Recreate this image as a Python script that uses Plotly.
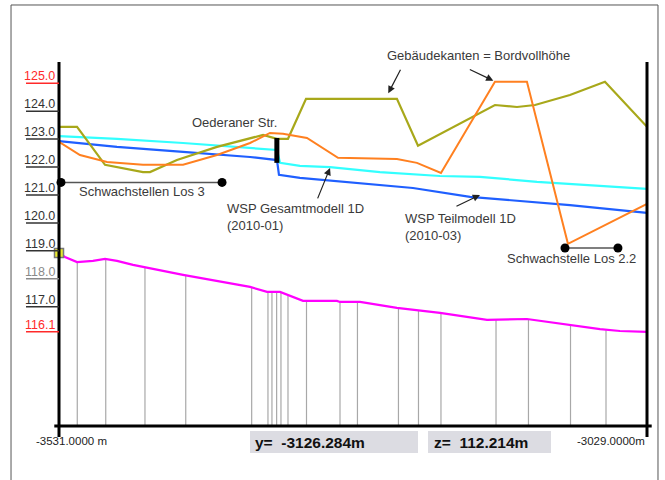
import numpy as np
import plotly.graph_objects as go

# ---------------- data (station in m, elevation in m) ----------------
ground_x = [-3531.0, -3525.9, -3515.6, -3502.0, -3491.7, -3481.5, -3467.8, -3425.1, -3367.9, -3353.4,
            -3342.3, -3322.7, -3293.7, -3291.1, -3274.0, -3242.5, -3205.7, -3165.6, -3131.5, -3097.3,
            -3069.1, -3052.1, -3029.0]
ground_z = [118.92, 118.78, 118.60, 118.64, 118.71, 118.64, 118.50, 118.14, 117.71, 117.53,
            117.53, 117.21, 117.21, 117.17, 117.17, 116.96, 116.78, 116.53, 116.56, 116.35,
            116.20, 116.13, 116.10]

station_x = [-3515.4, -3491.1, -3457.6, -3422.8, -3366.5, -3352.6, -3349.2, -3345.2, -3341.5, -3335.5,
             -3319.7, -3291.1, -3276.2, -3241.2, -3224.1, -3204.9, -3157.9, -3130.2, -3094.3, -3064.0]

bord_x = [-3531.0, -3515.6, -3491.7, -3459.3, -3453.3, -3430.3, -3396.1, -3356.8, -3344.9, -3335.5,
          -3320.1, -3242.5, -3224.5, -3158.8, -3140.0, -3124.6, -3094.8, -3064.9, -3029.0]
bord_z = [123.44, 123.44, 122.08, 121.82, 121.82, 122.25, 122.72, 123.15, 123.01, 123.01,
          124.44, 124.44, 122.76, 124.22, 124.15, 124.22, 124.58, 125.05, 123.44]

ufer_x = [-3531.0, -3513.1, -3490.0, -3459.3, -3425.1, -3396.1, -3367.9, -3350.9, -3339.8, -3319.3,
          -3292.8, -3242.5, -3225.4, -3204.9, -3158.8, -3131.5, -3096.5, -3029.0]
ufer_z = [122.90, 122.43, 122.18, 122.08, 122.08, 122.43, 122.86, 123.22, 123.19, 123.04,
          122.33, 122.29, 122.15, 121.79, 125.05, 125.05, 119.25, 120.68]

wsp_gesamt_x = [-3531.0, -3481.5, -3425.1, -3379.0, -3344.9, -3342.3, -3325.3, -3299.6, -3257.0,
                -3205.7, -3171.6, -3122.9, -3029.0]
wsp_gesamt_z = [123.11, 123.01, 122.86, 122.72, 122.61, 122.15, 122.04, 122.00, 121.82,
                121.68, 121.65, 121.47, 121.22]

wsp_teil_x = [-3531.0, -3481.5, -3425.1, -3367.9, -3344.9, -3343.2, -3325.3, -3285.1, -3228.8,
              -3180.1, -3094.8, -3029.0]
wsp_teil_z = [122.93, 122.72, 122.54, 122.36, 122.25, 121.72, 121.61, 121.47, 121.25,
              120.93, 120.64, 120.36]

bruecke_x = [-3345.0, -3345.0]
bruecke_z = [123.04, 122.15]

los3_x = [-3529.3, -3391.8]
los3_z = [121.45, 121.45]
los22_x = [-3099.0, -3053.8]
los22_z = [119.10, 119.10]

tick_vals = [125.0, 124.0, 123.0, 122.0, 121.0, 120.0, 119.0, 118.0, 117.0, 116.1]
tick_text = ["125.0", "124.0", "123.0", "122.0", "121.0", "120.0", "119.0", "118.0", "117.0", "116.1"]
tick_cols = ["#ff2a2a", "#333333", "#333333", "#333333", "#333333", "#333333", "#333333", "#8a8a8a",
             "#333333", "#ff2a2a"]

x_range = [-3531.0, -3029.0]
y_range = [112.73, 125.76]

FONT = "Liberation Sans, Arial, sans-serif"

fig = go.Figure()

# vertical station lines from ground to the bottom axis
gz = np.interp(station_x, ground_x, ground_z)
vx, vy = [], []
for sx, z in zip(station_x, gz):
    vx += [sx, sx, None]
    vy += [z, y_range[0], None]
fig.add_trace(go.Scatter(x=vx, y=vy, mode="lines", line=dict(color="#a8a8a8", width=1.2),
                         hoverinfo="skip", showlegend=False))

fig.add_trace(go.Scatter(x=ground_x, y=ground_z, mode="lines",
                         line=dict(color="#ff00ff", width=2.2), showlegend=False))
fig.add_trace(go.Scatter(x=wsp_gesamt_x, y=wsp_gesamt_z, mode="lines",
                         line=dict(color="#33ffff", width=2.2), showlegend=False))
fig.add_trace(go.Scatter(x=wsp_teil_x, y=wsp_teil_z, mode="lines",
                         line=dict(color="#1f5fff", width=2.2), showlegend=False))
fig.add_trace(go.Scatter(x=bord_x, y=bord_z, mode="lines",
                         line=dict(color="#a8a81a", width=2.2), showlegend=False))
fig.add_trace(go.Scatter(x=ufer_x, y=ufer_z, mode="lines",
                         line=dict(color="#ff8020", width=2.0), showlegend=False))
fig.add_trace(go.Scatter(x=bruecke_x, y=bruecke_z, mode="lines",
                         line=dict(color="#000000", width=5), showlegend=False))
fig.add_trace(go.Scatter(x=los3_x, y=los3_z, mode="lines+markers",
                         line=dict(color="#555555", width=1.5),
                         marker=dict(color="#000000", size=9), showlegend=False, cliponaxis=False))
fig.add_trace(go.Scatter(x=los22_x, y=los22_z, mode="lines+markers",
                         line=dict(color="#555555", width=1.5),
                         marker=dict(color="#000000", size=9), showlegend=False, cliponaxis=False))
fig.add_trace(go.Scatter(x=[ground_x[0]], y=[ground_z[0]], mode="markers",
                         marker=dict(symbol="square", color="#e8e830", size=9,
                                     line=dict(color="#777777", width=1.5)),
                         showlegend=False, cliponaxis=False))

shapes = []
# outer frame
for (x0, y0, x1, y1) in [(-0.0816, 1.1566, 1.0187, 1.1566), (-0.0816, 1.1566, -0.0816, -0.16),
                         (1.0187, 1.1566, 1.0187, -0.16)]:
    shapes.append(dict(type="line", xref="paper", yref="paper", x0=x0, y0=y0, x1=x1, y1=y1,
                       line=dict(color="#555555", width=1)))
# axes
shapes.append(dict(type="line", xref="paper", yref="paper", x0=0, y0=-0.03, x1=0, y1=1.0,
                   line=dict(color="#000000", width=3)))
shapes.append(dict(type="line", xref="paper", yref="paper", x0=1, y0=-0.03, x1=1, y1=1.0,
                   line=dict(color="#000000", width=3)))
shapes.append(dict(type="line", xref="paper", yref="paper", x0=-0.008, y0=0, x1=1.008, y1=0,
                   line=dict(color="#000000", width=3)))
# bottom info boxes
shapes.append(dict(type="rect", xref="paper", yref="paper", x0=0.3248, x1=0.6105, y0=-0.0742, y1=-0.0137,
                   fillcolor="#dcdce2", line=dict(width=0)))
shapes.append(dict(type="rect", xref="paper", yref="paper", x0=0.6276, x1=0.8367, y0=-0.0742, y1=-0.0137,
                   fillcolor="#dcdce2", line=dict(width=0)))

annotations = []
# y tick labels with underline
for v, t, c in zip(tick_vals, tick_text, tick_cols):
    shapes.append(dict(type="line", xref="paper", yref="y", x0=-0.0561, x1=0, y0=v, y1=v,
                       line=dict(color=c, width=1.5)))
    annotations.append(dict(xref="paper", yref="y", x=-0.003, y=v, text=t, showarrow=False,
                            xanchor="right", yanchor="bottom", yshift=-2,
                            font=dict(family=FONT, size=12.5, color=c)))

txt = dict(family=FONT, size=13, color="#3a3a3a")
annotations += [
    dict(xref="paper", yref="paper", x=0.5544, y=1.0192, text="Gebäudekanten = Bordvollhöhe",
         showarrow=False, xanchor="left", yanchor="middle", font=txt),
    dict(x=-3419.2, y=123.58, text="Oederaner Str.", showarrow=False,
         xanchor="left", yanchor="middle", font=txt),
    dict(x=-3515.6, y=121.11, text="Schwachstellen Los 3", showarrow=False,
         xanchor="left", yanchor="middle", font=txt),
    dict(x=-3389.3, y=120.21, text="WSP Gesamtmodell 1D<br>(2010-01)", showarrow=False,
         xanchor="left", yanchor="middle", align="left", font=txt),
    dict(x=-3237.3, y=119.86, text="WSP Teilmodell 1D<br>(2010-03)", showarrow=False,
         xanchor="left", yanchor="middle", align="left", font=txt),
    dict(x=-3150.3, y=118.71, text="Schwachstelle Los 2.2", showarrow=False,
         xanchor="left", yanchor="middle", font=txt),
]
# arrows (head at x,y; tail offset ax,ay in px)
for hx, hy, ax, ay in [(-3299.6, 121.97, -13, 32), (-3171.6, 121.00, -25, 12),
                       (-3249.9, 124.64, 13, -25), (-3160.2, 125.09, -25, -12)]:
    annotations.append(dict(x=hx, y=hy, ax=ax, ay=ay, text="", showarrow=True, arrowhead=2,
                            arrowsize=1.2, arrowwidth=1.2, arrowcolor="#222222"))

small = dict(family=FONT, size=11.5, color="#222222")
big = dict(family=FONT, size=15.5, color="#111111")
annotations += [
    dict(xref="paper", yref="paper", x=-0.0425, y=-0.0412, text="-3531.0000 m", showarrow=False,
         xanchor="left", yanchor="middle", font=small),
    dict(xref="paper", yref="paper", x=0.878, y=-0.0412, text="-3029.0000m", showarrow=False,
         xanchor="left", yanchor="middle", font=small),
    dict(xref="paper", yref="paper", x=0.330, y=-0.044, text="<b>y=  -3126.284m</b>", showarrow=False,
         xanchor="left", yanchor="middle", font=big),
    dict(xref="paper", yref="paper", x=0.6344, y=-0.044, text="<b>z=  112.214m</b>", showarrow=False,
         xanchor="left", yanchor="middle", font=big),
]

fig.update_layout(
    width=665, height=480,
    margin=dict(l=59, r=18, t=62, b=54),
    paper_bgcolor="white", plot_bgcolor="white",
    xaxis=dict(range=x_range, visible=False, fixedrange=True),
    yaxis=dict(range=y_range, visible=False, fixedrange=True),
    shapes=shapes, annotations=annotations, showlegend=False,
)
fig.write_html("out.html", config={"displayModeBar": False},
               post_script="document.body.style.margin='0';document.body.style.overflow='hidden';")
